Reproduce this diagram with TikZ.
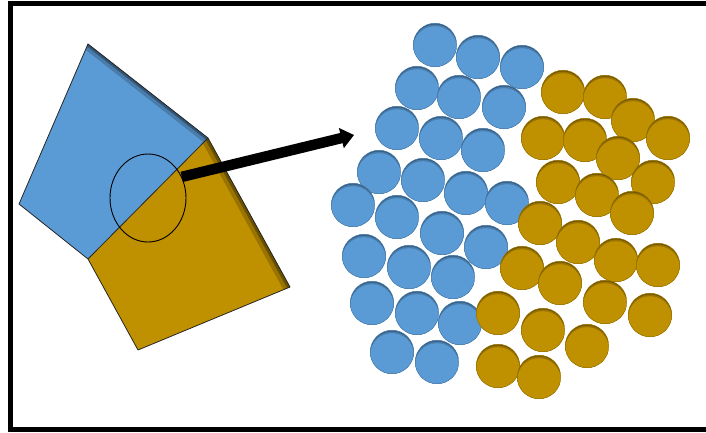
\documentclass[tikz,border=0pt]{standalone}
\usetikzlibrary{shapes.geometric,arrows.meta}
\definecolor{chipblue}{RGB}{91,155,213}
\definecolor{chipgold}{RGB}{191,144,0}
\tikzset{
  ball/.style={circle, minimum size=43.5pt, inner sep=0pt, fill=#1,
    draw=#1!80!black, line width=0.4pt,
    path picture={
      \fill[#1!60!black] (path picture bounding box.south west)
        rectangle (path picture bounding box.north east);
      \fill[#1!80!black] ([yshift=-1.4pt]path picture bounding box.center) circle (21.8pt);
      \fill[#1] ([yshift=-3pt]path picture bounding box.center) circle (21.8pt);
    }},
  frame/.style={draw=black, line width=5pt},
  bigarrow/.style={line width=10.5pt, -{Triangle[length=13pt,width=20pt]}},
}

\begin{document}
\begin{tikzpicture}[x=1pt,y=-1pt]
  \useasboundingbox (0,0) rectangle (706,432);
  \draw[frame] (10.5,3.5) rectangle (740,429.5);

  % the two plates
  \coordinate (top) at (88,44);
  \coordinate (left) at (19,204);
  \coordinate (joinR) at (208,138);
  \coordinate (joinL) at (88,259);
  \coordinate (farR) at (290,287);
  \coordinate (bottom) at (138,350);

  \begin{scope}
    \clip (top) -- (joinR) -- (joinL) -- (left) -- cycle;
    \fill[chipblue] (top) -- (joinR) -- (joinL) -- (left) -- cycle;
    \draw[chipblue!80!black, line width=12pt] (top) -- (joinR);
    \draw[chipblue!55!black, line width=5pt] (top) -- (joinR);
  \end{scope}
  \begin{scope}
    \clip (joinR) -- (farR) -- (bottom) -- (joinL) -- cycle;
    \fill[chipgold] (joinR) -- (farR) -- (bottom) -- (joinL) -- cycle;
    \draw[chipgold!80!black, line width=14pt] (joinR) -- (farR);
    \draw[chipgold!55!black, line width=6pt] (joinR) -- (farR);
  \end{scope}
  \draw[draw=black!85, line width=0.8pt, line join=round]
    (top) -- (joinR) -- (farR) -- (bottom) -- (joinL) -- (left) -- cycle
    (joinR) -- (joinL);

  \node[ellipse, draw, line width=0.9pt, minimum width=76pt, minimum height=88pt,
        inner sep=0pt] (zoomring) at (148,198) {};

  % grains of the two phases
  \foreach \x/\y [count=\i] in {435/45, 478/57, 522/67, 417/88, 459/97, 504/107,
      397/128, 441/138, 483/150, 379/172, 423/180, 466/193, 507/203,
      353/205, 397/217, 442/233, 486/247, 364/256, 409/267, 453/277,
      372/303, 417/313, 460/323, 392/352, 437/362}
    \node[ball=chipblue] (b\i) at (\x,\y) {};
  \foreach \x/\y [count=\i] in {563/92, 605/97, 633/120, 668/138, 543/138, 585/140,
      618/158, 653/182, 558/182, 597/195, 632/213, 540/223, 578/242,
      522/268, 560/283, 616/260, 658/265, 498/313, 543/330, 605/302,
      650/315, 587/346, 498/366, 539/377}
    \node[ball=chipgold] (g\i) at (\x,\y) {};

  \coordinate (spread) at (354,135);
  \draw[bigarrow] (zoomring.32) -- (spread);
\end{tikzpicture}
\end{document}
